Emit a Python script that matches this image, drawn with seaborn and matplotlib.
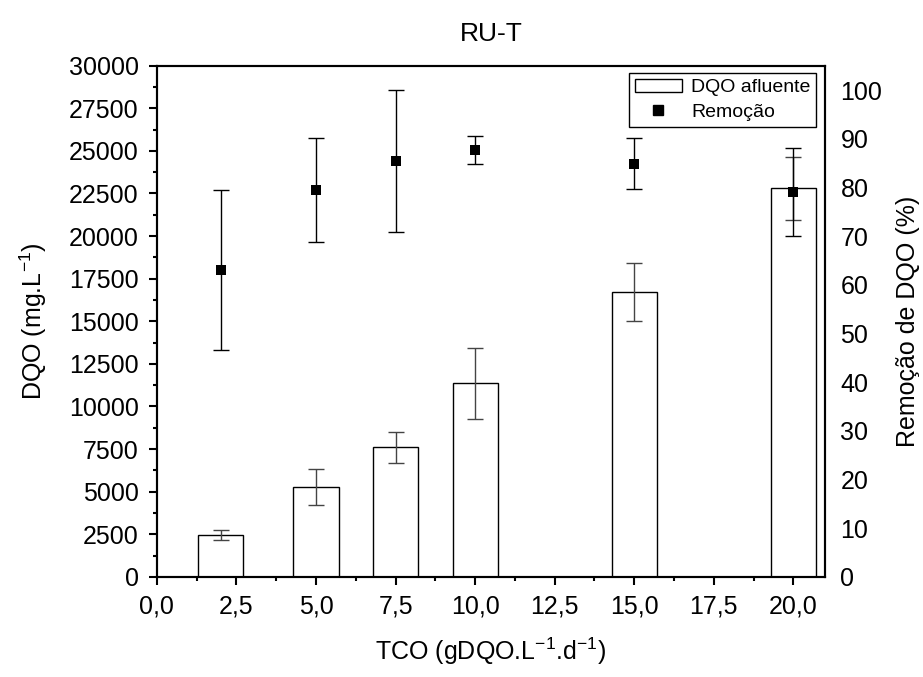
import matplotlib
matplotlib.use("Agg")
import matplotlib.pyplot as plt
from matplotlib.ticker import MultipleLocator, FuncFormatter
from matplotlib.patches import Patch
from matplotlib.lines import Line2D
import seaborn as sns
import pandas as pd

# TCO loading rates (x) and measured values
tco = [2.0, 5.0, 7.5, 10.0, 15.0, 20.0]
dqo_afluente = [2450, 5250, 7600, 11350, 16700, 22800]
dqo_afluente_sd = [270, 1050, 900, 2100, 1700, 1860]
remocao = [63.0, 79.5, 85.4, 87.7, 84.9, 79.0]
remocao_sd = [16.5, 10.7, 14.5, 2.8, 5.2, 9.0]

df = pd.DataFrame({"tco": tco, "dqo": dqo_afluente, "dqo_sd": dqo_afluente_sd,
                   "rem": remocao, "rem_sd": remocao_sd})

sns.set_theme(style="ticks")
plt.rcParams["font.family"] = ["Liberation Sans", "DejaVu Sans"]
plt.rcParams["mathtext.fontset"] = "custom"
plt.rcParams["mathtext.rm"] = "Liberation Sans"
plt.rcParams["text.color"] = "black"
plt.rcParams["axes.labelcolor"] = "black"
plt.rcParams["xtick.color"] = "black"
plt.rcParams["ytick.color"] = "black"

fig = plt.figure(figsize=(9.23, 6.77), dpi=100)
ax = fig.add_axes([0.170, 0.148, 0.724, 0.755])

sns.barplot(data=df, x="tco", y="dqo", native_scale=True, width=0.568,
            color="white", edgecolor="black", linewidth=1, errorbar=None,
            saturation=1, ax=ax)
ax.errorbar(df["tco"], df["dqo"], yerr=df["dqo_sd"], fmt="none",
            ecolor="#444444", elinewidth=1, capsize=5.5, capthick=1)

ax.set_xlim(0, 21)
ax.set_ylim(0, 30000)
ax.xaxis.set_major_locator(MultipleLocator(2.5))
ax.xaxis.set_minor_locator(MultipleLocator(1.25))
ax.yaxis.set_major_locator(MultipleLocator(2500))
ax.yaxis.set_minor_locator(MultipleLocator(1250))
ax.xaxis.set_major_formatter(FuncFormatter(lambda v, p: f"{v:.1f}".replace(".", ",")))
ax.yaxis.set_major_formatter(FuncFormatter(lambda v, p: f"{int(v)}"))
ax.tick_params(axis="both", which="major", direction="out", length=6, width=1.5,
               labelsize=18, color="black", labelcolor="black", pad=7)
ax.tick_params(axis="both", which="minor", direction="out", length=3, width=1.5,
               color="black")
for sp in ax.spines.values():
    sp.set_linewidth(1.5)
    sp.set_color("black")
ax.set_xlabel("TCO (gDQO.L$^{-1}$.d$^{-1}$)", fontsize=18, labelpad=12)
ax.set_ylabel("DQO (mg.L$^{-1}$)", fontsize=18, labelpad=14)
ax.set_title("RU-T", fontsize=19, pad=18, color="black")

ax2 = ax.twinx()
ax2.set_ylim(0, 105)
ax2.yaxis.set_major_locator(MultipleLocator(10))
ax2.tick_params(axis="y", length=0, labelsize=18, pad=11, labelcolor="black")
ax2.errorbar(df["tco"], df["rem"], yerr=df["rem_sd"], fmt="none",
             ecolor="black", elinewidth=1, capsize=5.5, capthick=1, zorder=3)
sns.scatterplot(data=df, x="tco", y="rem", marker="s", color="black", s=60,
                edgecolor="black", linewidth=0, ax=ax2, zorder=4)
ax2.set_ylabel("Remoção de DQO (%)", fontsize=18, labelpad=10)
ax2.set_xlim(0, 21)
ax2.set_xlabel("")
# faint inward ticks along the top spine
ax2.xaxis.set_major_locator(MultipleLocator(2.5))
ax2.xaxis.set_minor_locator(MultipleLocator(1.25))
ax2.tick_params(axis="x", which="both", bottom=False, labelbottom=False,
                top=True, direction="in", length=2.5, width=1, color="#999999")
for sp in ax2.spines.values():
    sp.set_linewidth(1.5)
    sp.set_color("black")

handles = [Patch(facecolor="white", edgecolor="black", linewidth=1),
           Line2D([], [], marker="s", color="black", linestyle="none", markersize=7)]
leg = ax2.legend(handles, ["DQO afluente", "Remoção"], loc="upper right",
                 bbox_to_anchor=(0.987, 0.986), fontsize=14, frameon=True,
                 fancybox=False, edgecolor="black", framealpha=1,
                 borderpad=0.3, handlelength=2.4, handletextpad=0.5,
                 labelspacing=0.35, borderaxespad=0)
leg.get_frame().set_linewidth(1)
for t in leg.get_texts():
    t.set_color("black")

fig.savefig("out.png", dpi=100)
